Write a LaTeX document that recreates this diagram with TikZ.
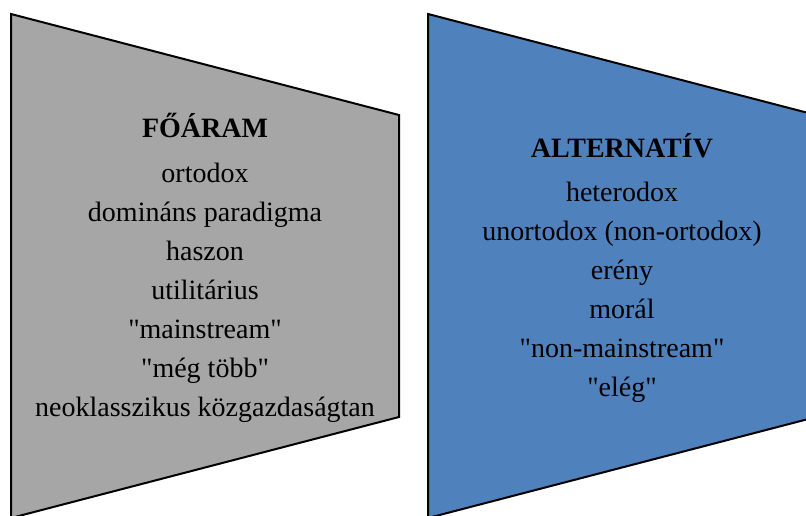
\documentclass[tikz,border=0pt]{standalone}
\usepackage{fontspec}
\setmainfont{Liberation Serif}
\definecolor{mainstreamgray}{HTML}{A6A6A6}
\definecolor{altblue}{HTML}{4F81BD}
\newcommand{\q}[1]{\textquotedbl#1\textquotedbl}
\tikzset{
  panel/.style={draw=black,line width=1.5pt,line join=miter},
  item/.style={inner sep=0pt,text height=14pt,text depth=5pt,
    font=\fontsize{21}{25}\selectfont,node distance=29.25pt},
  heading/.style={item,font=\fontsize{21}{25}\selectfont\bfseries}
}
\begin{document}
\begin{tikzpicture}[x=0.75pt,y=-0.75pt]
                \clip (0,0) rectangle (806,515);
                \draw[panel,fill=mainstreamgray] (11,14) -- (399,115) -- (399,417) -- (11,518) -- cycle;
                \draw[panel,fill=altblue] (428,14) -- (816,115) -- (816,417) -- (428,518) -- cycle;

                % left panel
                \path (205,137) node[heading,anchor=base] (M) {FŐÁRAM};
                \path node[item,below of=M,node distance=33.75pt] (M1) {ortodox};
                \path node[item,below of=M1] (M2) {domináns paradigma};
                \path node[item,below of=M2] (M3) {haszon};
                \path node[item,below of=M3] (M4) {utilitárius};
                \path node[item,below of=M4] (M5) {\q{mainstream}};
                \path node[item,below of=M5] (M6) {\q{még több}};
                \path node[item,below of=M6] (M7) {neoklasszikus közgazdaságtan};

                % right panel
                \path (622,157) node[heading,anchor=base] (A) {ALTERNATÍV};
                \path node[item,below of=A,node distance=33pt] (A1) {heterodox};
                \path node[item,below of=A1] (A2) {unortodox (non-ortodox)};
                \path node[item,below of=A2] (A3) {erény};
                \path node[item,below of=A3] (A4) {morál};
                \path node[item,below of=A4] (A5) {\q{non-mainstream}};
                \path node[item,below of=A5] (A6) {\q{elég}};
              \end{tikzpicture}
\end{document}
